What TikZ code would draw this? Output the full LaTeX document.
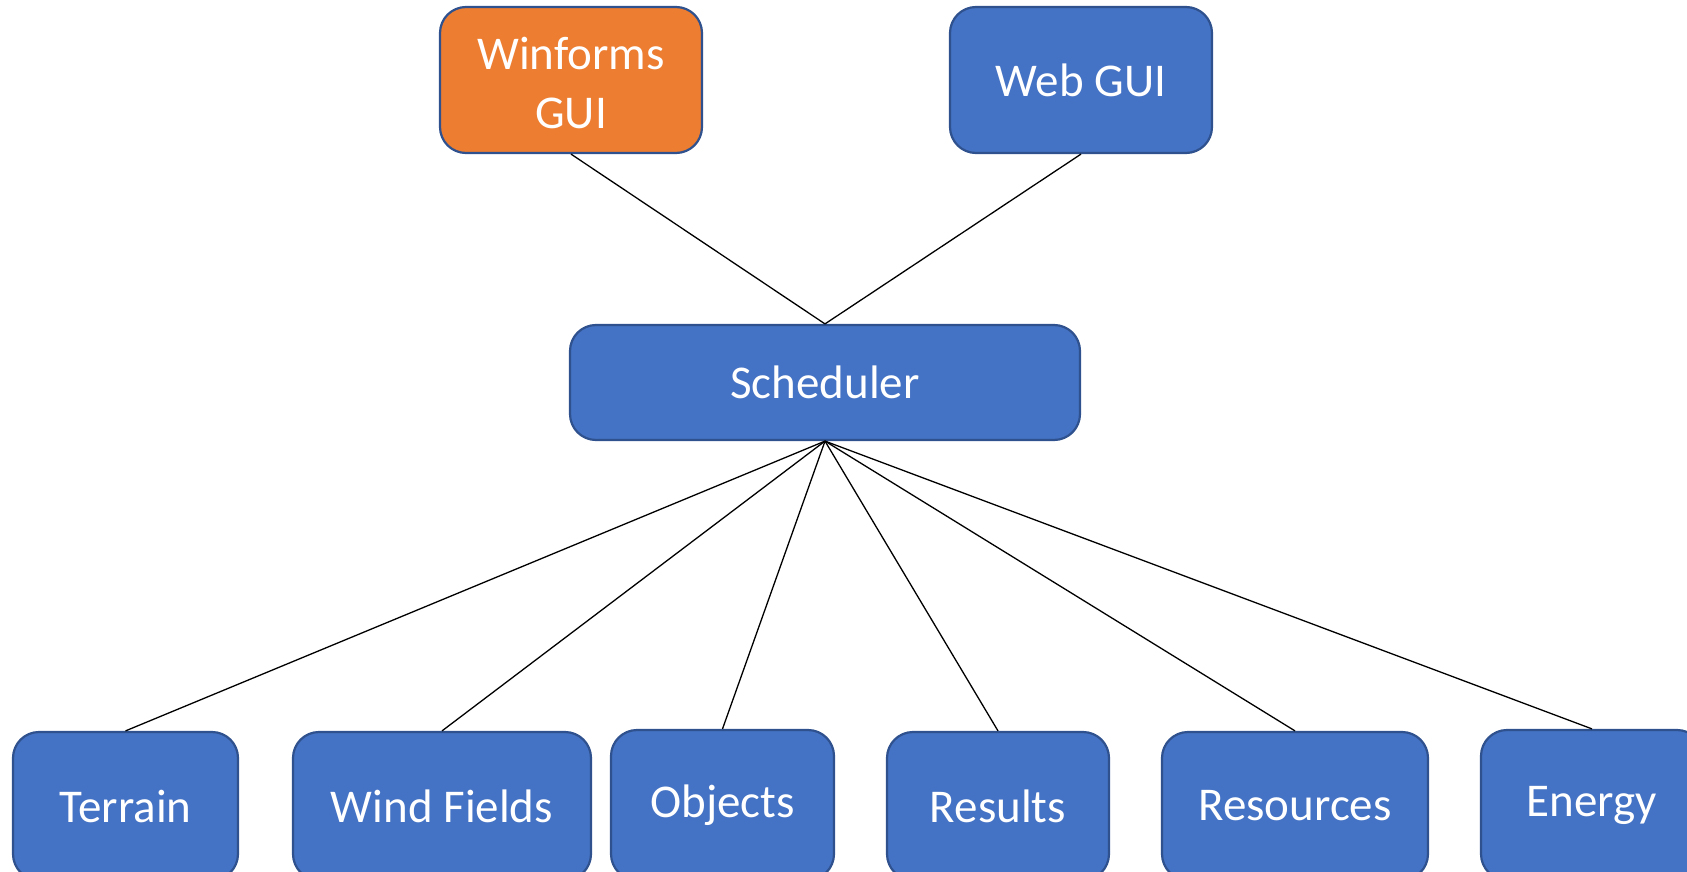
\documentclass[tikz,border=0pt]{standalone}
\usepackage{fontspec}
\setmainfont{Carlito}
\definecolor{boxblue}{HTML}{4472C4}
\definecolor{boxedge}{HTML}{2F528F}
\definecolor{boxorange}{HTML}{ED7D31}
\begin{document}
\begin{tikzpicture}[x=1pt,y=-1pt,
  box/.style={draw=boxedge, fill=boxblue, line width=2.2pt, rounded corners=26pt,
    text=white, inner sep=0pt, align=center,
    font=\fontsize{47}{59}\selectfont},
  link/.style={draw=black, line width=1.3pt}]
\useasboundingbox (0,0) rectangle (1687,872);
\clip (0,0) rectangle (1687,872);
\node[box, fill=boxorange, minimum width=262pt, minimum height=146pt,
  label={[text=white, align=center, font=\fontsize{47}{59}\selectfont, yshift=-3pt]center:Winforms\\GUI}] (win) at (571,80) {};
\node[box, minimum width=262pt, minimum height=146pt] (web) at (1081,80) {Web GUI};
\node[box, minimum width=510pt, minimum height=115pt] (sch) at (825,382.5) {Scheduler};
\node[box, minimum width=225pt, minimum height=148pt] (ter) at (125.5,806) {Terrain};
\node[box, minimum width=298pt, minimum height=148pt] (wind) at (442,806) {Wind Fields};
\node[box, minimum width=223pt, minimum height=150pt] (obj) at (722.5,805) {Objects};
\node[box, minimum width=222pt, minimum height=148pt] (res) at (998,806) {Results};
\node[box, minimum width=266pt, minimum height=148pt] (rsc) at (1295,806) {Resources};
\node[box, minimum width=222pt, minimum height=150pt] (ene) at (1592,805) {Energy};
\draw[link] (win.south) -- (sch.north);
\draw[link] (web.south) -- (sch.north);
\foreach \n in {ter,wind,obj,res,rsc,ene}
  \draw[link] (sch.south) -- (\n.north);
\end{tikzpicture}
\end{document}
